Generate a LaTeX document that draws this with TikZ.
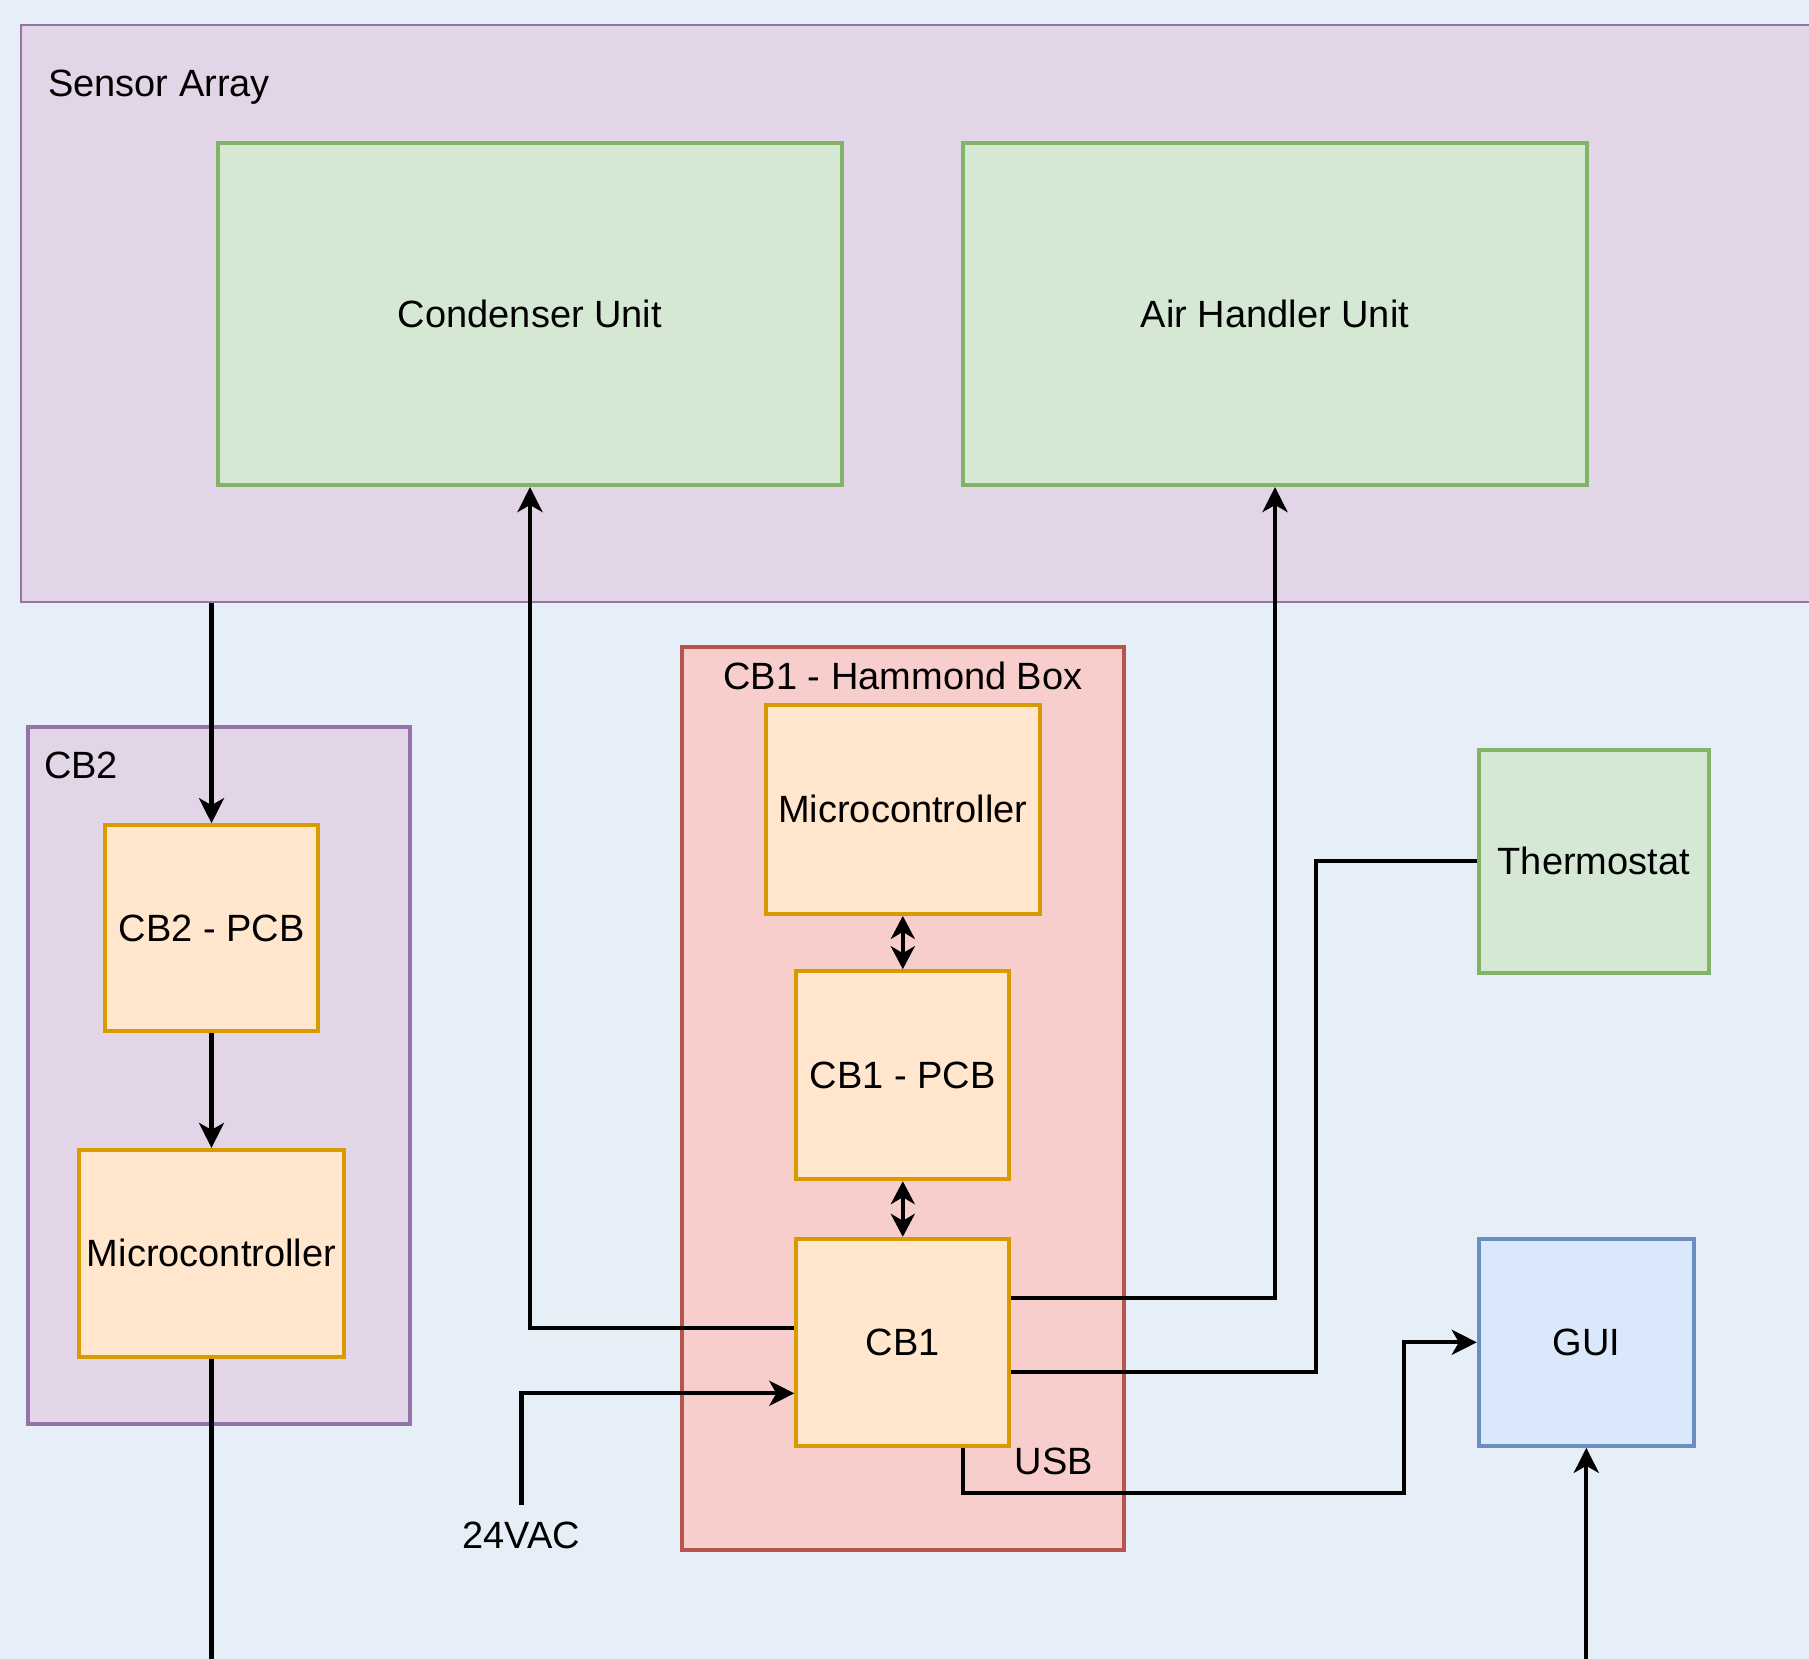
\documentclass[tikz,border=0pt]{standalone}
\usepackage{fontspec}
\setmainfont{Liberation Sans}
\usetikzlibrary{arrows.meta}
\definecolor{bg}{HTML}{E6EEF8}
\definecolor{purfill}{HTML}{E1D5E7}
\definecolor{purdraw}{HTML}{9673A6}
\definecolor{grfill}{HTML}{D5E8D4}
\definecolor{grdraw}{HTML}{82B366}
\definecolor{orfill}{HTML}{FFE6CC}
\definecolor{ordraw}{HTML}{D79B00}
\definecolor{redfill}{HTML}{F8CECC}
\definecolor{reddraw}{HTML}{B85450}
\definecolor{blfill}{HTML}{DAE8FC}
\definecolor{bldraw}{HTML}{6C8EBF}
\tikzset{
  basebox/.style={inner sep=0pt, text height=27pt, text depth=0pt, align=center, line width=4pt},
  greenbox/.style={basebox, draw=grdraw, fill=grfill},
  orbox/.style={basebox, draw=ordraw, fill=orfill},
  bluebox/.style={basebox, draw=bldraw, fill=blfill},
  container/.style={inner sep=0pt},
  lbl/.style={inner sep=0pt},
  conn/.style={line width=4.3pt, draw=black},
  arr/.style={-{Stealth[length=25pt,width=25pt,inset=7pt]}},
  darr/.style={{Stealth[length=23pt,width=24pt,inset=7pt]}-{Stealth[length=23pt,width=24pt,inset=7pt]}},
}
\begin{document}
\begin{tikzpicture}[x=1pt,y=-1pt,font=\fontsize{38}{46}\selectfont]
\fill[bg] (0,0) rectangle (1809,1659);
\useasboundingbox (0,0) rectangle (1809,1659);
\clip (0,0) rectangle (1809,1659);

% containers
\node[container, draw=purdraw, fill=purfill, line width=2pt, minimum width=1809pt, minimum height=577pt] (sa) at (925.5,313.5) {};
\node[lbl, anchor=base west] (salbl) at (48,96.6) {Sensor Array};

\node[container, draw=purdraw, fill=purfill, line width=4pt, minimum width=382pt, minimum height=697pt] (cb2) at (218.6,1075.2) {};
\node[lbl, anchor=base west] (cb2lbl) at (43.8,778.6) {CB2};

\node[container, draw=reddraw, fill=redfill, line width=4pt, minimum width=442pt, minimum height=903pt] (cb1box) at (902.7,1098.9) {};
\node[lbl, anchor=base] (cb1lbl) at (903,689.7) {CB1 - Hammond Box};

% boxes
\node[greenbox, minimum width=624pt, minimum height=342pt] (cond) at (530,314) {Condenser Unit};
\node[greenbox, minimum width=624pt, minimum height=342pt] (ahu) at (1275,314) {Air Handler Unit};

\node[orbox, minimum width=213pt, minimum height=206pt] (cb2pcb) at (211.5,928.2) {CB2 - PCB};
\node[orbox, minimum width=265pt, minimum height=207pt] (cb2mc) at (211.5,1253.4) {Microcontroller};

\node[orbox, minimum width=274pt, minimum height=209pt] (cb1mc) at (902.8,809.4) {Microcontroller};
\node[orbox, minimum width=213pt, minimum height=208pt] (cb1pcb) at (902.8,1075.2) {CB1 - PCB};
\node[orbox, minimum width=213pt, minimum height=207pt] (cb1) at (902.8,1342.3) {CB1};

\node[greenbox, minimum width=230pt, minimum height=223pt] (thermo) at (1593.8,861.3) {Thermostat};
\node[bluebox, minimum width=215pt, minimum height=207pt] (gui) at (1586.3,1342.3) {GUI};

% labels
\node[lbl, anchor=base, text height=27pt, text depth=0pt] (vac) at (521.5,1548) {24VAC};
\node[lbl, anchor=base] (usb) at (1054,1474) {USB};

% off-page ends
\coordinate (cb2out) at (213,1700);
\coordinate (guiin) at (1586.3,1700);

% connectors
\draw[conn,arr] (cb2pcb.north |- sa.south) -- (cb2pcb.north);
\draw[conn,arr] (cb2pcb.south) -- (cb2mc.north);
\draw[conn] (cb2mc.south) -- (cb2mc.south |- cb2out);

\draw[conn,darr] (cb1mc.south) -- (cb1pcb.north);
\draw[conn,darr] (cb1pcb.south) -- (cb1.north);

\draw[conn,arr] ([yshift=14pt]cb1.west) -| (cond.south);
\draw[conn,arr] ([yshift=44pt]cb1.east) -| (ahu.south);
\draw[conn] ([yshift=-30pt]cb1.east) -- ++(304.5,0) |- (thermo.west);
\draw[conn,arr] ([yshift=16pt]vac.north) |- ([yshift=-51pt]cb1.west);
\draw[conn,arr] ([xshift=60.5pt]cb1.south) -- ++(0,45) -- ++(441,0) |- (gui.west);
\draw[conn,arr] (guiin) -- (gui.south);
\end{tikzpicture}
\end{document}
